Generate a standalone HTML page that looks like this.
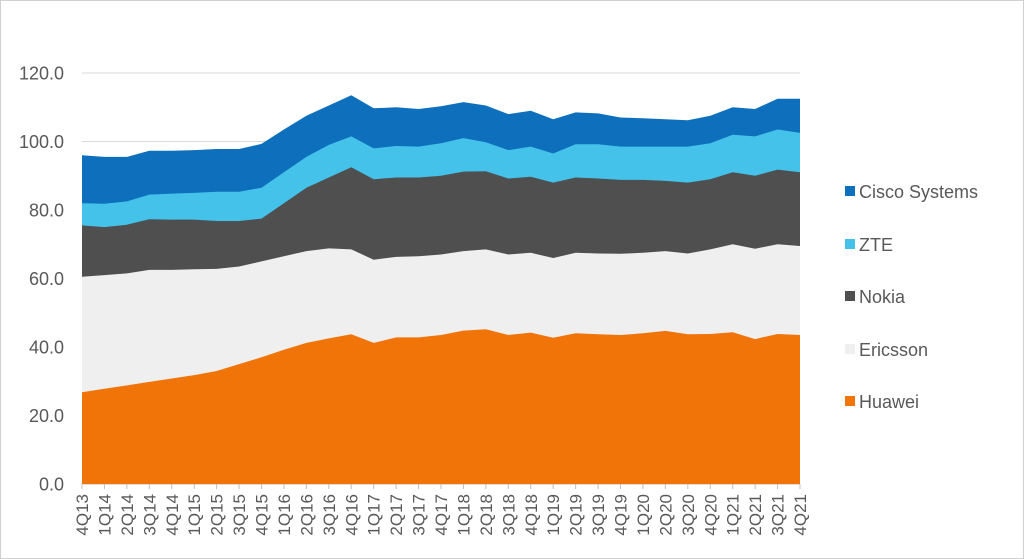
<!DOCTYPE html>
<html><head><meta charset="utf-8"><style>
html,body{margin:0;padding:0;background:#fff;}
svg{display:block;font-family:"Liberation Sans",sans-serif;}
</style></head><body>
<svg id="c" width="1024" height="559" xmlns="http://www.w3.org/2000/svg">
<rect x="0.5" y="0.5" width="1023" height="558" fill="#fff" stroke="#d0d0d0"/>
<g id="grid"></g>
<g id="areas"></g>
<g id="labels"></g>
<g font-size="18" fill="#595959">
<rect x="845" y="186" width="10" height="10" fill="#0e6fbd"/><text x="859" y="198">Cisco Systems</text>
<rect x="845" y="239" width="10" height="10" fill="#44c2ea"/><text x="859" y="251">ZTE</text>
<rect x="845" y="291" width="10" height="10" fill="#4f4f4f"/><text x="859" y="303">Nokia</text>
<rect x="845" y="344" width="10" height="10" fill="#efefef"/><text x="859" y="356">Ericsson</text>
<rect x="845" y="396" width="10" height="10" fill="#f07408"/><text x="859" y="408">Huawei</text>
</g>
</svg>
<script>
var ns="http://www.w3.org/2000/svg";
var X0=82,X1=800,Y0=484,YS=(484-73)/120;
function px(i){return X0+(X1-X0)*i/32;}
function py(v){return Y0-v*YS;}
var q=["4Q13"];for(var y=14;y<=21;y++)for(var k=1;k<=4;k++)q.push(k+"Q"+y);
var cisco=[96,95.5,95.5,97.3,97.3,97.5,97.8,97.8,99.3,103.5,107.5,110.5,113.5,109.7,110,109.5,110.3,111.5,110.5,108,109,106.5,108.5,108.2,107,106.8,106.5,106.2,107.5,110,109.5,112.5,112.5];
var zte=[82,81.8,82.5,84.5,84.8,85,85.3,85.3,86.5,91,95.5,99,101.5,98,98.7,98.5,99.5,101,99.8,97.5,98.5,96.5,99.2,99.2,98.5,98.5,98.5,98.5,99.5,102,101.5,103.5,102.5];
var nok=[75.5,75,75.7,77.3,77.2,77.2,76.8,76.8,77.5,82,86.5,89.5,92.5,89,89.5,89.5,90,91.2,91.3,89.2,89.7,88,89.5,89.2,88.8,88.8,88.5,88,89,91,90,91.8,91];
var eri=[60.5,61,61.5,62.5,62.5,62.7,62.8,63.5,65,66.5,68,68.8,68.5,65.5,66.3,66.5,67,68,68.5,67,67.5,66,67.5,67.3,67.2,67.5,68,67.3,68.5,70,68.7,70,69.5];
var hua=[26.8,27.8,28.8,29.8,30.8,31.8,33,35,37,39.2,41.2,42.5,43.7,41.2,42.8,42.8,43.5,44.8,45.2,43.5,44.2,42.7,44,43.7,43.5,44,44.7,43.7,43.8,44.3,42.3,43.8,43.5];
var g=document.getElementById("grid");
for(var v=0;v<=120;v+=20){
 var l=document.createElementNS(ns,"line");l.setAttribute("x1",X0);l.setAttribute("x2",X1);l.setAttribute("y1",py(v));l.setAttribute("y2",py(v));l.setAttribute("stroke",v==0?"#bfbfbf":"#d9d9d9");g.appendChild(l);
 var t=document.createElementNS(ns,"text");t.setAttribute("x",64);t.setAttribute("y",py(v)+6.5);t.setAttribute("text-anchor","end");t.setAttribute("font-size","18");t.setAttribute("fill","#595959");t.textContent=v.toFixed(1);g.appendChild(t);
}
var a=document.getElementById("areas");
[[cisco,"#0e6fbd"],[zte,"#44c2ea"],[nok,"#4f4f4f"],[eri,"#efefef"],[hua,"#f07408"]].forEach(function(s){
 var d="M"+X0+","+Y0;for(var i=0;i<33;i++)d+=" L"+px(i).toFixed(1)+","+py(s[0][i]).toFixed(1);d+=" L"+X1+","+Y0+"Z";
 var p=document.createElementNS(ns,"path");p.setAttribute("d",d);p.setAttribute("fill",s[1]);a.appendChild(p);
});
var lb=document.getElementById("labels");
for(var i=0;i<33;i++){
 var tk=document.createElementNS(ns,"line");tk.setAttribute("x1",px(i));tk.setAttribute("x2",px(i));tk.setAttribute("y1",Y0);tk.setAttribute("y2",Y0+5);tk.setAttribute("stroke","#bfbfbf");lb.appendChild(tk);
 var t=document.createElementNS(ns,"text");var x=px(i)+6,y=494;t.setAttribute("transform","translate("+x+","+y+") rotate(-90)");t.setAttribute("text-anchor","end");t.setAttribute("font-size","17");t.setAttribute("fill","#595959");t.textContent=q[i];lb.appendChild(t);}
</script>
</body></html>
